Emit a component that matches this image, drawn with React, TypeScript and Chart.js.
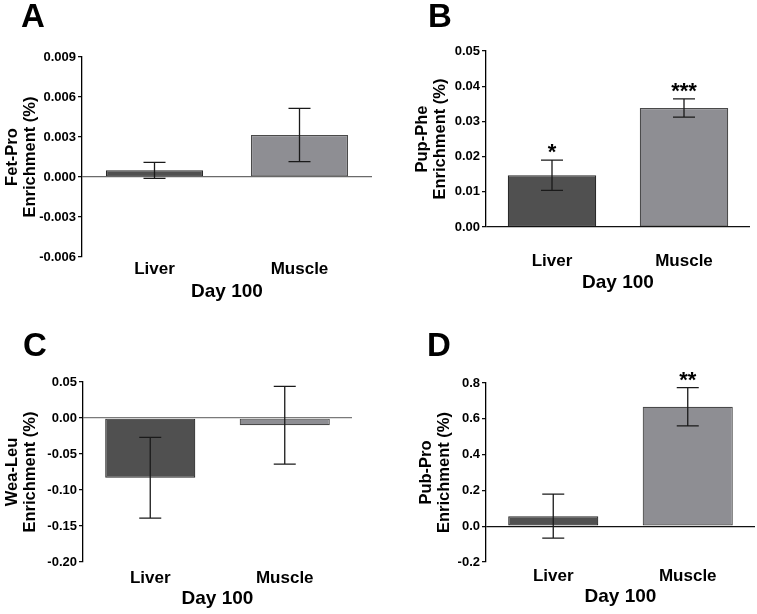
import React, { useEffect, useRef } from "react";
import { Chart, registerables } from "chart.js";

Chart.register(...registerables);

// ---------- data ----------
const categories = ["Liver", "Muscle"];
const xAxisTitle = "Day 100";
const yTitleSecondLine = "Enrichment (%)";

const fetProValues = [0.0005, 0.00315];
const fetProErrors = [0.0006, 0.002];
const fetProStars = ["", ""];
const fetProTicks = [-0.006, -0.003, 0.0, 0.003, 0.006, 0.009];

const pupPheValues = [0.0147, 0.0338];
const pupPheErrors = [0.0043, 0.0026];
const pupPheStars = ["*", "***"];
const pupPheTicks = [0.0, 0.01, 0.02, 0.03, 0.04, 0.05];

const weaLeuValues = [-0.083, -0.01];
const weaLeuErrors = [0.056, 0.054];
const weaLeuStars = ["", ""];
const weaLeuTicks = [-0.2, -0.15, -0.1, -0.05, 0.0, 0.05];

const pubProValues = [0.056, 0.667];
const pubProErrors = [0.123, 0.107];
const pubProStars = ["", "**"];
const pubProTicks = [-0.2, 0.0, 0.2, 0.4, 0.6, 0.8];

// ---------- styles ----------
const FONT = "'Liberation Sans', Arial, Helvetica, sans-serif";
const barFills = ["#505050", "#8e8e93"];
const barBorders = ["#2a2a2a", "#4a4a4a"];

type PanelSpec = {
  letter: string;
  yTitle: string;
  values: number[];
  errors: number[];
  stars: string[];
  ticks: number[];
  decimals: number;
  left: number;
  top: number;
  width: number;
  height: number;
  pad: { left: number; right: number; top: number; bottom: number };
  yWidth: number;
  xHeight: number;
  xTickPad: number;
  zeroColor: string;
  letterPos: { x: number; y: number };
};

const panels: PanelSpec[] = [
  {
    letter: "A",
    yTitle: "Fet-Pro",
    values: fetProValues,
    errors: fetProErrors,
    stars: fetProStars,
    ticks: fetProTicks,
    decimals: 3,
    left: 0,
    top: 0,
    width: 380,
    height: 307,
    pad: { left: 3, right: 8, top: 57, bottom: 4 },
    yWidth: 79,
    xHeight: 46,
    xTickPad: 2,
    zeroColor: "#6a6a6a",
    letterPos: { x: 21, y: 27 },
  },
  {
    letter: "B",
    yTitle: "Pup-Phe",
    values: pupPheValues,
    errors: pupPheErrors,
    stars: pupPheStars,
    ticks: pupPheTicks,
    decimals: 2,
    left: 380,
    top: 0,
    width: 377,
    height: 307,
    pad: { left: 33, right: 7, top: 51, bottom: 13 },
    yWidth: 73,
    xHeight: 67,
    xTickPad: 24,
    zeroColor: "#111111",
    letterPos: { x: 48, y: 27 },
  },
  {
    letter: "C",
    yTitle: "Wea-Leu",
    values: weaLeuValues,
    errors: weaLeuErrors,
    stars: weaLeuStars,
    ticks: weaLeuTicks,
    decimals: 2,
    left: 0,
    top: 307,
    width: 380,
    height: 307,
    pad: { left: 3, right: 28, top: 75, bottom: 4 },
    yWidth: 80,
    xHeight: 48,
    xTickPad: 6,
    zeroColor: "#7a7a7a",
    letterPos: { x: 23, y: 49 },
  },
  {
    letter: "D",
    yTitle: "Pub-Pro",
    values: pubProValues,
    errors: pubProErrors,
    stars: pubProStars,
    ticks: pubProTicks,
    decimals: 1,
    left: 380,
    top: 307,
    width: 377,
    height: 307,
    pad: { left: 37, right: 2, top: 76, bottom: 6 },
    yWidth: 69,
    xHeight: 46,
    xTickPad: 4,
    zeroColor: "#111111",
    letterPos: { x: 47, y: 49 },
  },
];

const errorBarPlugin = {
  id: "errorBars",
  afterDatasetsDraw(chart: any, _args: any, opts: any) {
    const { ctx } = chart;
    const meta = chart.getDatasetMeta(0);
    const yScale = chart.scales.y;
    const values: number[] = opts.values || [];
    const errors: number[] = opts.errors || [];
    const stars: string[] = opts.stars || [];
    ctx.save();
    ctx.strokeStyle = "#1a1a1a";
    ctx.lineWidth = 1.3;
    meta.data.forEach((bar: any, i: number) => {
      const x = bar.x;
      const yHi = yScale.getPixelForValue(values[i] + errors[i]);
      const yLo = yScale.getPixelForValue(values[i] - errors[i]);
      const cap = 11;
      ctx.beginPath();
      ctx.moveTo(x, yHi);
      ctx.lineTo(x, yLo);
      ctx.moveTo(x - cap, yHi);
      ctx.lineTo(x + cap, yHi);
      ctx.moveTo(x - cap, yLo);
      ctx.lineTo(x + cap, yLo);
      ctx.stroke();
      if (stars[i]) {
        ctx.fillStyle = "#000";
        ctx.font = `bold 22px ${FONT}`;
        ctx.textAlign = "center";
        ctx.textBaseline = "alphabetic";
        ctx.fillText(stars[i], x, yHi - 1);
      }
    });
    ctx.restore();
  },
  afterDraw(chart: any, _args: any, opts: any) {
    if (!opts.letter) return;
    const { ctx } = chart;
    ctx.save();
    ctx.fillStyle = "#000";
    ctx.font = `bold 33px ${FONT}`;
    ctx.textAlign = "left";
    ctx.textBaseline = "alphabetic";
    ctx.fillText(opts.letter, opts.letterPos.x, opts.letterPos.y);
    ctx.restore();
  },
};

function Panel({ spec }: { spec: PanelSpec }) {
  const ref = useRef<HTMLCanvasElement | null>(null);
  useEffect(() => {
    if (!ref.current) return;
    const ticks = spec.ticks;
    const chart = new Chart(ref.current, {
      type: "bar",
      data: {
        labels: categories,
        datasets: [
          {
            data: spec.values,
            backgroundColor: barFills,
            borderColor: barBorders,
            borderWidth: 1.2,
            borderSkipped: false,
            categoryPercentage: 0.67,
            barPercentage: 1,
          },
        ],
      },
      options: {
        animation: false,
        responsive: false,
        devicePixelRatio: 1,
        layout: { padding: spec.pad },
        plugins: {
          legend: { display: false },
          tooltip: { enabled: false },
          errorBars: {
            values: spec.values,
            errors: spec.errors,
            stars: spec.stars,
            letter: spec.letter,
            letterPos: spec.letterPos,
          },
        } as any,
        scales: {
          x: {
            grid: { display: false, drawTicks: false },
            border: { display: false },
            ticks: {
              color: "#000",
              font: { family: FONT, size: 17, weight: "bold", lineHeight: 1.2 },
              padding: spec.xTickPad,
            },
            title: {
              display: true,
              text: xAxisTitle,
              color: "#000",
              font: { family: FONT, size: 19, weight: "bold", lineHeight: 1.2 },
              padding: 0,
            },
            afterFit: (s: any) => {
              s.height = spec.xHeight;
            },
          },
          y: {
            min: ticks[0],
            max: ticks[ticks.length - 1],
            ticks: {
              stepSize: ticks[1] - ticks[0],
              color: "#000",
              font: { family: FONT, size: 13, weight: "bold" },
              padding: 2,
              callback: (v: any) => Number(v).toFixed(spec.decimals),
            },
            grid: {
              drawTicks: true,
              tickLength: 4,
              tickColor: "#000",
              tickWidth: 1.2,
              lineWidth: 1.3,
              color: (c: any) =>
                c.tick && Math.abs(c.tick.value) < 1e-9 ? spec.zeroColor : "rgba(0,0,0,0)",
            },
            border: { display: true, color: "#000", width: 1.3 },
            title: {
              display: true,
              text: [spec.yTitle, yTitleSecondLine],
              color: "#000",
              font: { family: FONT, size: 16.5, weight: "bold", lineHeight: 1.12 },
              padding: 0,
            },
            afterFit: (s: any) => {
              s.width = spec.yWidth;
            },
          },
        },
      } as any,
      plugins: [errorBarPlugin],
    });
    return () => chart.destroy();
  }, [spec]);
  return (
    <canvas
      ref={ref}
      width={spec.width}
      height={spec.height}
      style={{
        position: "absolute",
        left: spec.left,
        top: spec.top,
        width: spec.width,
        height: spec.height,
      }}
    />
  );
}

export default function App() {
  return (
    <div
      style={{
        position: "absolute",
        left: 0,
        top: 0,
        width: 757,
        height: 614,
        background: "#fff",
      }}
    >
      {panels.map((p) => (
        <Panel key={p.letter} spec={p} />
      ))}
    </div>
  );
}
